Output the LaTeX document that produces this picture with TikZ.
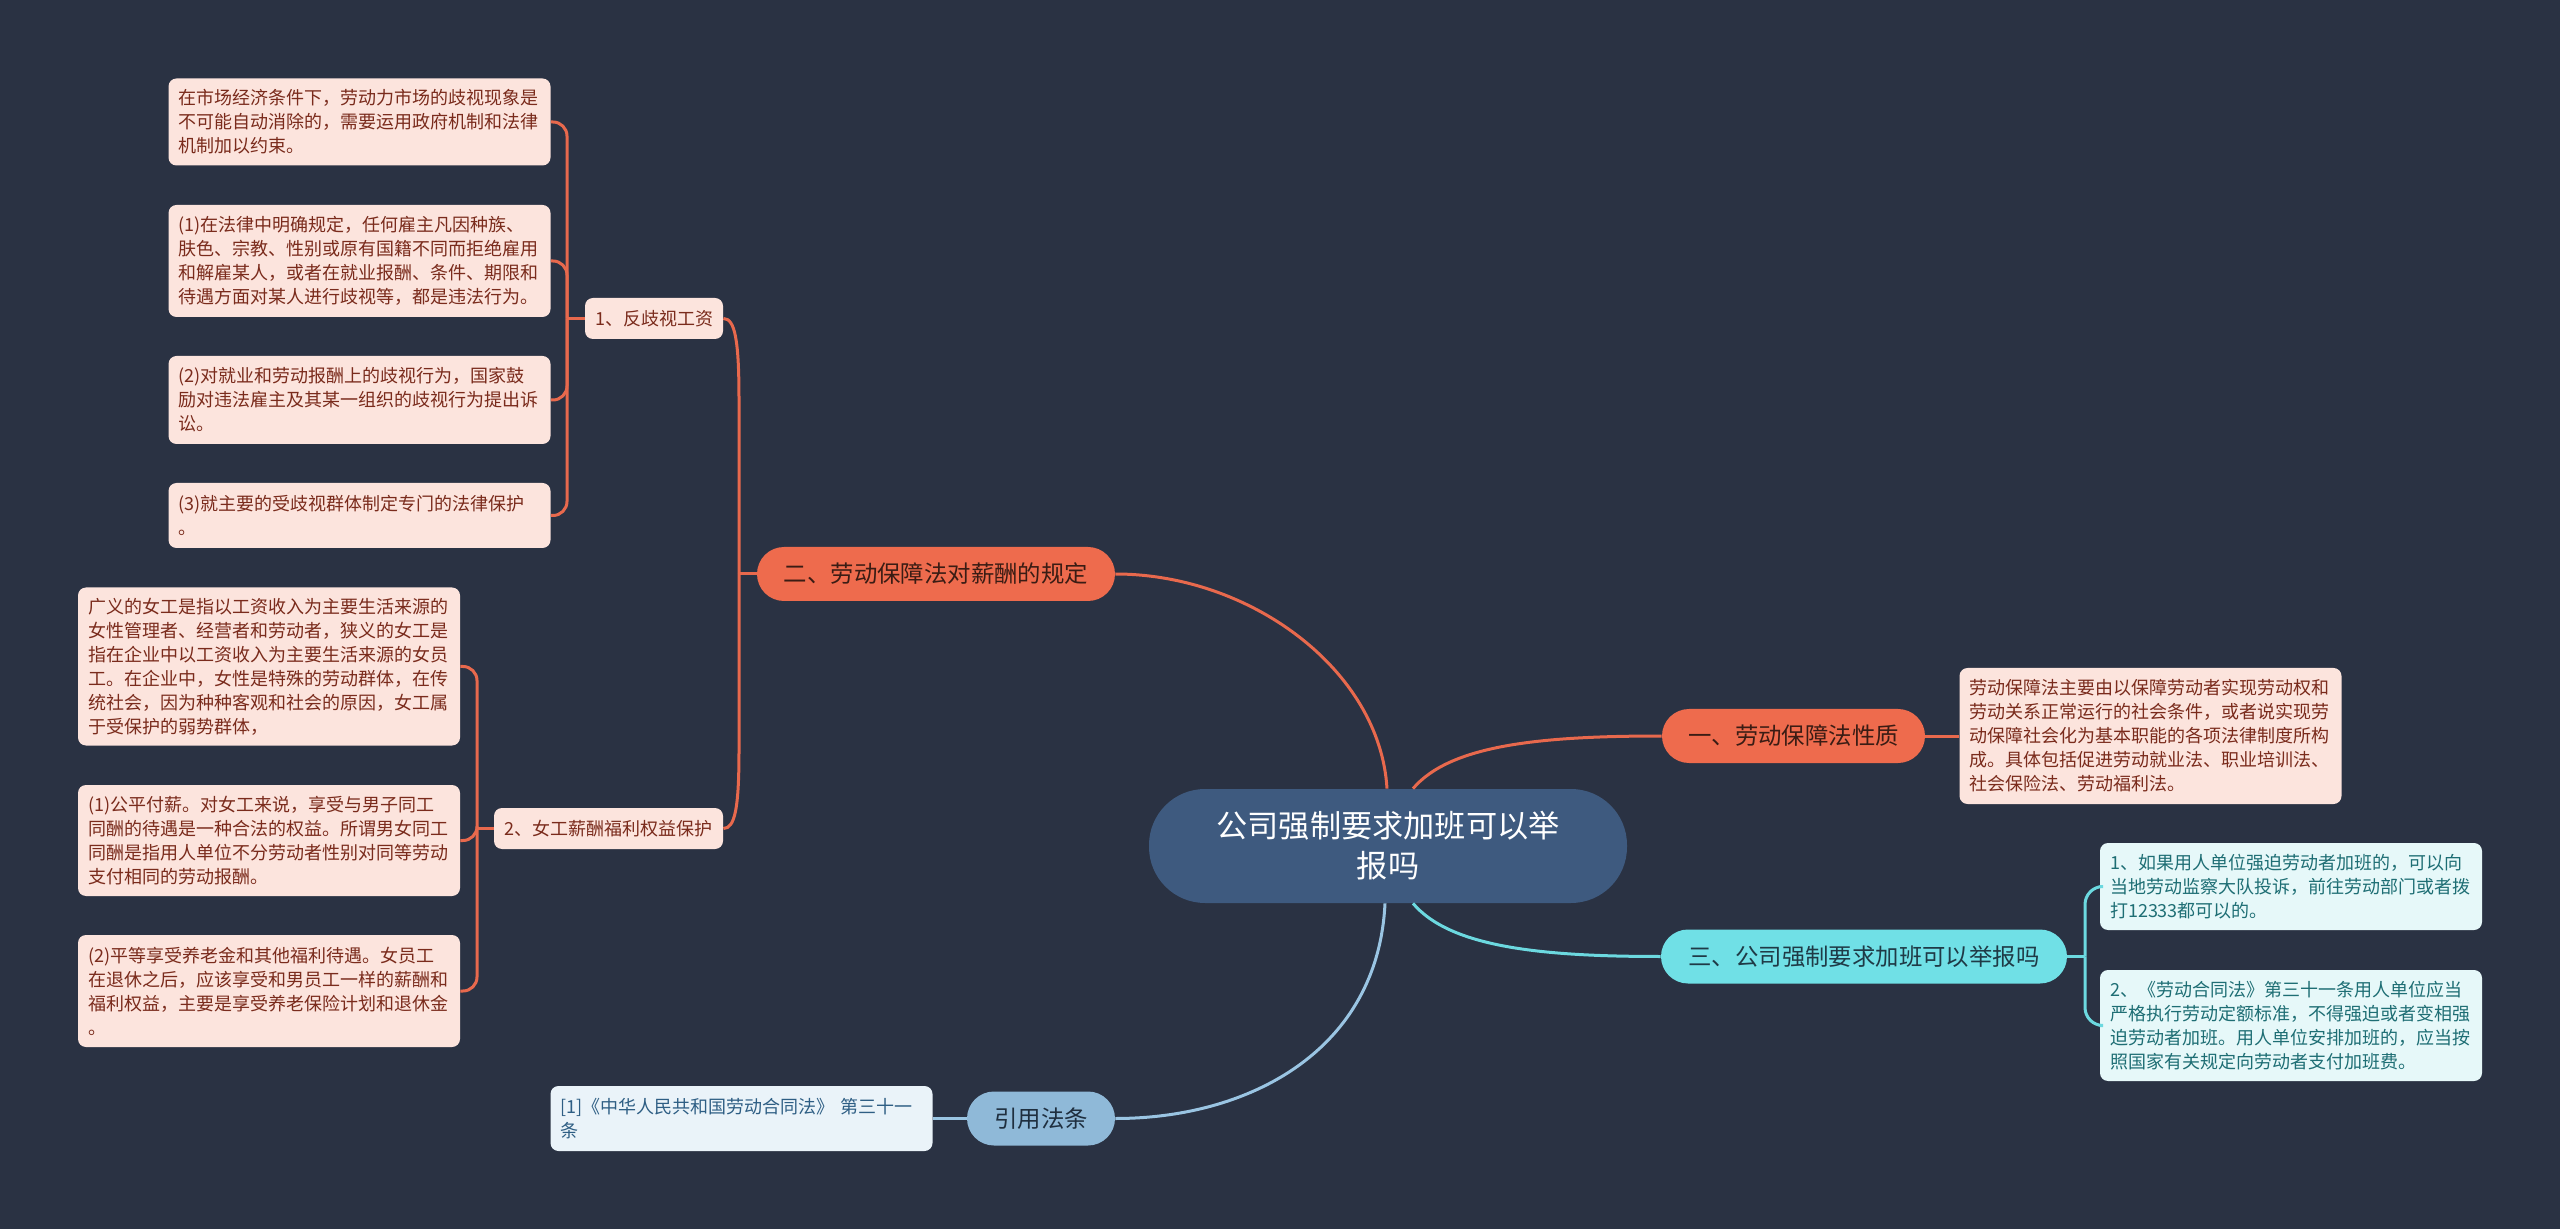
\documentclass[tikz,border=0pt]{standalone}
\usepackage{fontspec}
\setmainfont{Noto Sans CJK SC}
\definecolor{bg}{HTML}{2A3243}
\definecolor{orN}{HTML}{EE6B4D}
\definecolor{orL}{HTML}{E8694D}
\definecolor{pinkF}{HTML}{FCE4DD}
\definecolor{pinkT}{HTML}{7A2B1C}
\definecolor{orT}{HTML}{3A1C14}
\definecolor{rootF}{HTML}{3E5A7F}
\definecolor{cyN}{HTML}{70E0E6}
\definecolor{cyF}{HTML}{E6F8F9}
\definecolor{cyT}{HTML}{1E6E74}
\definecolor{cyL}{HTML}{6CD9E0}
\definecolor{cyNT}{HTML}{1F3A46}
\definecolor{blN}{HTML}{8FB9D8}
\definecolor{blF}{HTML}{EAF3F9}
\definecolor{blT}{HTML}{2E5E84}
\definecolor{blL}{HTML}{9AC5E3}
\definecolor{blNT}{HTML}{1F2F3F}
\tikzset{
  leafbox/.style={rounded corners=4pt, inner xsep=5pt, inner ysep=0pt, text width=181pt, align=left, font=\fontsize{9}{12}\selectfont},
  pinkleaf/.style={leafbox, fill=pinkF, text=pinkT},
  cyanleaf/.style={leafbox, fill=cyF, text=cyT},
  blueleaf/.style={leafbox, fill=blF, text=blT},
  subbox/.style={rounded corners=4pt, fill=pinkF, text=pinkT, inner sep=0pt, minimum height=20.5pt, font=\fontsize{9}{12}\selectfont},
  mainbox/.style={rounded corners=13.5pt, inner sep=0pt, minimum height=27pt, font=\fontsize{11.7}{14}\selectfont},
  orline/.style={draw=orL, line width=1.5pt},
  cyline/.style={draw=cyL, line width=1.5pt},
  blline/.style={draw=blL, line width=1.5pt},
}
\begin{document}
\begin{tikzpicture}[x=0.5pt,y=-0.5pt]
\fill[bg] (0,0) rectangle (2560,1229);
\useasboundingbox (0,0) rectangle (2560,1229);

% root
\node[fill=rootF, text=white, rounded corners=28pt, minimum width=239pt, minimum height=57pt, inner sep=0pt, align=center, font=\fontsize{15.6}{20}\selectfont] (root) at (1388,846) {公司强制要求加班可以举\\报吗};

% main branches
\node[mainbox, fill=orN, text=orT, minimum width=179pt] (n2) at (936,574) {二、劳动保障法对薪酬的规定};
\node[mainbox, fill=orN, text=orT, minimum width=131.5pt] (n1) at (1793.5,736) {一、劳动保障法性质};
\node[mainbox, fill=cyN, text=cyNT, minimum width=203pt] (n3) at (1864,956.5) {三、公司强制要求加班可以举报吗};
\node[mainbox, fill=blN, text=blNT, minimum width=74pt] (nq) at (1041,1118.5) {引用法条};

% sub nodes
\node[subbox, minimum width=69pt] (anti) at (654,318.5) {1、反歧视工资};
\node[subbox, minimum width=114.5pt] (women) at (608.5,828.5) {2、女工薪酬福利权益保护};

% leaves of 1
\node[pinkleaf, minimum height=43.5pt] (a1) at (359.5,122) {在市场经济条件下，劳动力市场的歧视现象是\\不可能自动消除的，需要运用政府机制和法律\\机制加以约束。};
\node[pinkleaf, minimum height=56pt] (a2) at (359.5,261) {(1)在法律中明确规定，任何雇主凡因种族、\\肤色、宗教、性别或原有国籍不同而拒绝雇用\\和解雇某人，或者在就业报酬、条件、期限和\\待遇方面对某人进行歧视等，都是违法行为。};
\node[pinkleaf, minimum height=44pt] (a3) at (359.5,400) {(2)对就业和劳动报酬上的歧视行为，国家鼓\\励对违法雇主及其某一组织的歧视行为提出诉\\讼。};
\node[pinkleaf, minimum height=32.5pt] (a4) at (359.5,515.5) {(3)就主要的受歧视群体制定专门的法律保护\\。};

% leaves of 2
\node[pinkleaf, minimum height=79pt] (w1) at (269,666.5) {广义的女工是指以工资收入为主要生活来源的\\女性管理者、经营者和劳动者，狭义的女工是\\指在企业中以工资收入为主要生活来源的女员\\工。在企业中，女性是特殊的劳动群体，在传\\统社会，因为种种客观和社会的原因，女工属\\于受保护的弱势群体，};
\node[pinkleaf, minimum height=55.5pt] (w2) at (269,840.5) {(1)公平付薪。对女工来说，享受与男子同工\\同酬的待遇是一种合法的权益。所谓男女同工\\同酬是指用人单位不分劳动者性别对同等劳动\\支付相同的劳动报酬。};
\node[pinkleaf, minimum height=56pt] (w3) at (269,991) {(2)平等享受养老金和其他福利待遇。女员工\\在退休之后，应该享受和男员工一样的薪酬和\\福利权益，主要是享受养老保险计划和退休金\\。};

% leaf of 一
\node[pinkleaf, minimum height=68pt] (p1) at (2150.5,736) {劳动保障法主要由以保障劳动者实现劳动权和\\劳动关系正常运行的社会条件，或者说实现劳\\动保障社会化为基本职能的各项法律制度所构\\成。具体包括促进劳动就业法、职业培训法、\\社会保险法、劳动福利法。};

% leaves of 三
\node[cyanleaf, minimum height=43.5pt] (c1) at (2291,886.5) {1、如果用人单位强迫劳动者加班的，可以向\\当地劳动监察大队投诉，前往劳动部门或者拨\\打12333都可以的。};
\node[cyanleaf, minimum height=55.5pt] (c2) at (2291,1025.5) {2、《劳动合同法》第三十一条用人单位应当\\严格执行劳动定额标准，不得强迫或者变相强\\迫劳动者加班。用人单位安排加班的，应当按\\照国家有关规定向劳动者支付加班费。};

% leaf of 引用法条
\node[blueleaf, minimum height=32.5pt] (q1) at (741.5,1118.5) {[1]《中华人民共和国劳动合同法》 第三十一\\条};

% connectors root -> main
\draw[orline] ([xshift=-0.5pt]root.north) .. controls (1380,670) and (1250,574) .. (n2.east);
\draw[orline] ([xshift=12.5pt]root.north) .. controls (1450,745) and (1540,736) .. (n1.west);
\draw[cyline] ([xshift=12.5pt]root.south) .. controls (1450,947) and (1540,956.5) .. (n3.west);
\draw[blline] ([xshift=-1.5pt]root.south) .. controls (1378,1050) and (1250,1118.5) .. (nq.east);

% main -> leaves (straight)
\draw[orline] (n1.east) -- (p1.west);
\draw[blline] (q1.east) -- (nq.west);

% 二 -> sub nodes
\coordinate (j2) at (739,574);
\draw[orline] (n2.west) -- (j2);
\draw[orline] (j2) -- (739,400) .. controls (739,340) and (735,318.5) .. (anti.east);
\draw[orline] (j2) -- (739,750) .. controls (739,808) and (735,828.5) .. (women.east);

% anti -> leaves
\coordinate (t1) at (567,318.5);
\draw[orline] (anti.west) -- (t1);
\foreach \l in {a1,a2,a3,a4}{
  \draw[orline, rounded corners=7pt] (\l.east) -| (t1);
}
% women -> leaves
\coordinate (t2) at (477,828.5);
\draw[orline] (women.west) -- (t2);
\foreach \l in {w1,w2,w3}{
  \draw[orline, rounded corners=7pt] (\l.east) -| (t2);
}
% 三 -> leaves
\coordinate (t3) at (2085,956.5);
\draw[cyline] (n3.east) -- (t3);
\foreach \l in {c1,c2}{
  \draw[cyline, rounded corners=9pt] (\l.west) -| (t3);
}
\end{tikzpicture}
\end{document}
